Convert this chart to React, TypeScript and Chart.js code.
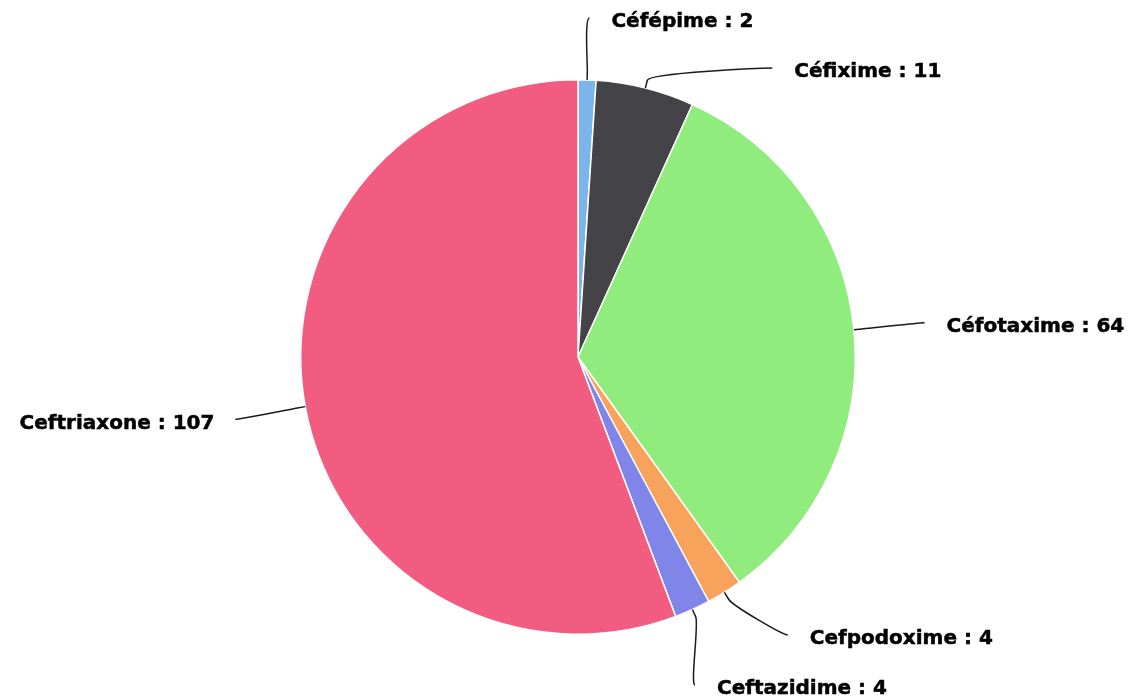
import React, { useEffect, useRef } from 'react';
import { Chart, registerables } from 'chart.js';

Chart.register(...registerables);

const categories = ['Céfépime', 'Céfixime', 'Céfotaxime', 'Cefpodoxime', 'Ceftazidime', 'Ceftriaxone'];
const counts = [2, 11, 64, 4, 4, 107];
const sliceColors = ['#7cb5ec', '#434348', '#90ed7d', '#f7a35c', '#8085e9', '#f15c80'];

const LABEL_FONT = 'bold 20px "DejaVu Sans", Verdana, sans-serif';

const pieLabelPlugin = {
  id: 'pieLabels',
  afterDraw(chart: any) {
    const meta = chart.getDatasetMeta(0);
    const arcs = meta.data;
    if (!arcs || !arcs.length) return;
    const ctx = chart.ctx;
    const first = arcs[0].getProps(['x', 'y', 'outerRadius'], true);
    const cx = first.x, cy = first.y, r = first.outerRadius;
    const distance = 71;
    const R = r + distance;
    const spacing = 50;
    const top = 18;
    const bottom = chart.height - 12;
    const connOffset = 8;

    const items = arcs.map((arc: any, i: number) => {
      const p = arc.getProps(['startAngle', 'endAngle'], true);
      const mid = (p.startAngle + p.endAngle) / 2;
      const left = Math.cos(mid) < 0;
      const naturalY = cy + Math.sin(mid) * R;
      return { i, mid, left, naturalY, y: naturalY, clampedTop: false };
    });

    [true, false].forEach((side) => {
      const group = items.filter((it: any) => it.left === side).sort((a: any, b: any) => a.naturalY - b.naturalY);
      const n = group.length;
      if (!n) return;
      group.forEach((g: any) => { g.y = Math.min(Math.max(g.y, top), bottom); });
      for (let k = 1; k < n; k++) group[k].y = Math.max(group[k].y, group[k - 1].y + spacing);
      if (group[n - 1].y > bottom) group[n - 1].y = bottom;
      for (let k = n - 2; k >= 0; k--) group[k].y = Math.min(group[k].y, group[k + 1].y - spacing);
      if (group[0].y < top) group[0].y = top;
      for (let k = 1; k < n; k++) group[k].y = Math.max(group[k].y, group[k - 1].y + spacing);
      group.forEach((g: any) => { g.clampedTop = g.y <= top + 0.5 && g.naturalY < top; });
    });

    ctx.save();
    items.forEach((it: any) => {
      const yForX = it.clampedTop ? it.naturalY : it.y;
      const dy = Math.max(-R, Math.min(R, yForX - cy));
      const dx = Math.sqrt(R * R - dy * dy);
      const lx = cx + (it.left ? -dx : dx);
      const ly = it.y;
      const cosA = Math.cos(it.mid), sinA = Math.sin(it.mid);
      const touch = { x: cx + cosA * r, y: cy + sinA * r };
      const brk = { x: cx + cosA * (r + connOffset), y: cy + sinA * (r + connOffset) };
      ctx.beginPath();
      ctx.strokeStyle = '#1a1a1a';
      ctx.lineWidth = 1.5;
      ctx.moveTo(lx, ly);
      ctx.bezierCurveTo(lx + (it.left ? 5 : -5), ly, 2 * brk.x - touch.x, 2 * brk.y - touch.y, brk.x, brk.y);
      ctx.lineTo(touch.x, touch.y);
      ctx.stroke();

      ctx.font = LABEL_FONT;
      ctx.fillStyle = '#000000';
      ctx.strokeStyle = '#000000';
      ctx.lineWidth = 0.5;
      ctx.textBaseline = 'middle';
      ctx.textAlign = it.left ? 'right' : 'left';
      const text = `${categories[it.i]} : ${counts[it.i]}`;
      const tx = lx + (it.left ? -21 : 22);
      const ty = ly + 4;
      ctx.fillText(text, tx, ty);
      ctx.strokeText(text, tx, ty);
    });
    ctx.restore();
  },
};

export default function App() {
  const canvasRef = useRef<HTMLCanvasElement | null>(null);

  useEffect(() => {
    document.body.style.margin = '0';
    const canvas = canvasRef.current;
    if (!canvas) return;
    const chart = new Chart(canvas, {
      type: 'pie',
      data: {
        labels: categories,
        datasets: [
          {
            data: counts,
            backgroundColor: sliceColors,
            borderColor: '#ffffff',
            borderWidth: 1.5,
            hoverOffset: 0,
          },
        ],
      },
      options: {
        responsive: false,
        animation: false,
        layout: { padding: { left: 300, right: 278, top: 79, bottom: 62 } },
        plugins: {
          legend: { display: false },
          tooltip: { enabled: false },
        },
      },
      plugins: [pieLabelPlugin],
    });
    return () => chart.destroy();
  }, []);

  return (
    <div style={{ width: 1134, height: 697, background: '#ffffff' }}>
      <canvas ref={canvasRef} width={1134} height={697} style={{ display: 'block' }} />
    </div>
  );
}
